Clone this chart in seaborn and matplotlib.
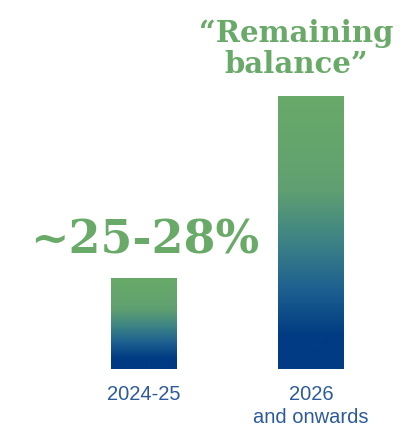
import numpy as np
import pandas as pd
import matplotlib
matplotlib.use("Agg")
import matplotlib.pyplot as plt
from matplotlib.colors import LinearSegmentedColormap
import seaborn as sns

categories = ["2024-25", "2026\nand onwards"]
values = [25, 75]
annotations = ["~25-28%", "\u201cRemaining\nbalance\u201d"]

sns.set_theme(style="white")
plt.rcParams['font.family'] = ['Liberation Sans', 'DejaVu Sans']

GREEN = "#69aa69"
BLUE = "#003b83"
cmap = LinearSegmentedColormap.from_list(
    "grad", [(0.0, BLUE), (0.12, BLUE), (0.3, "#1f6290"), (0.48, "#3f8584"),
             (0.66, "#60a071"), (1.0, GREEN)])

fig = plt.figure(figsize=(4.03, 4.31), dpi=100)
ax = fig.add_axes([0, 61/431, 1, 370/431])
df = pd.DataFrame({"cat": categories, "val": values})
sns.barplot(data=df, x="cat", y="val", ax=ax, width=0.395, color="white", saturation=1)

grad = np.linspace(0, 1, 256).reshape(-1, 1)
for p in ax.patches:
    x0, y0 = p.get_x(), p.get_y()
    w, h = p.get_width(), p.get_height()
    p.set_facecolor("none")
    p.set_edgecolor("none")
    im = ax.imshow(grad, cmap=cmap, origin="lower", aspect="auto",
                   extent=[x0, x0 + w, y0, y0 + h], zorder=2)
    im.set_clip_path(p)

ax.set_xlim(-144/167, (403-144)/167)
ax.set_ylim(0, 370/3.64)

# annotations
ax.text(0.005, 32.1, annotations[0], ha="center", va="baseline",
        fontsize=33, fontweight="bold", color=GREEN, family="DejaVu Serif")
ax.text(0.91, 81.5, annotations[1], ha="center", va="baseline",
        fontsize=21, fontweight="bold", color=GREEN, family="DejaVu Serif",
        linespacing=1.1)

for s in ax.spines.values():
    s.set_visible(False)
ax.set_yticks([])
ax.set_xlabel("")
ax.set_ylabel("")
ax.tick_params(axis="x", length=0, pad=10.5, labelsize=14.5, labelcolor="#2d5b9a")
for lbl in ax.get_xticklabels():
    lbl.set_linespacing(1.28)

fig.savefig("out.png", dpi=100, facecolor="white")
